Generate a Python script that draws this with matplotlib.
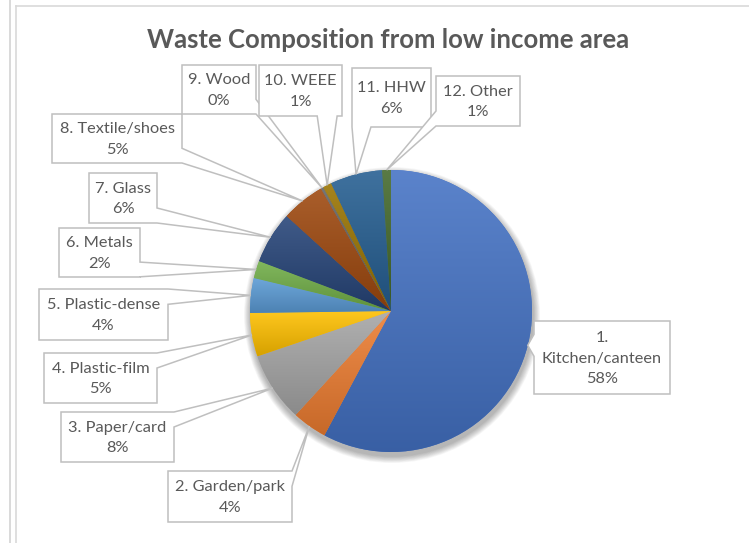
import numpy as np
import matplotlib
matplotlib.use('Agg')
import matplotlib.pyplot as plt
from matplotlib.patches import Circle, Polygon
from matplotlib.colors import to_rgb

plt.rcParams['font.family'] = ['Lato', 'DejaVu Sans']

title = 'Waste Composition from low income area'
cats = ['1.\nKitchen/canteen', '2. Garden/park', '3. Paper/card', '4. Plastic-film',
        '5. Plastic-dense', '6. Metals', '7. Glass', '8. Textile/shoes', '9. Wood',
        '10. WEEE', '11. HHW', '12. Other']
values = [58, 4, 8, 5, 4, 2, 6, 5, 0.3, 1, 6, 1]
colors = ['#4472C4', '#ED7D31', '#A5A5A5', '#FFC000', '#5B9BD5', '#70AD47',
          '#264478', '#9E480E', '#636363', '#997300', '#255E91', '#43682B']

# label boxes (x0, y0, x1, y1) in pixels
boxes = [(534, 321, 670, 394), (168, 471, 292, 522), (61, 412, 174, 462),
         (44, 353, 157, 403), (39, 289, 168, 340), (59, 228, 140, 277),
         (89, 173, 157, 223), (52, 114, 182, 163), (182, 65, 256, 114),
         (259, 65, 342, 116), (352, 68, 431, 127), (436, 76, 520, 126)]

W, H = 749, 543
cx, cy, r = 391, 311, 141
grey = '#595959'
edge = '#BFBFBF'

fig = plt.figure(figsize=(W / 100, H / 100), dpi=100)
ax = fig.add_axes([0, 0, 1, 1])

# soft shadow under the pie
for k in range(10):
    ax.add_patch(Circle((cx + 1, cy + 4), r + 7 - k * 0.7, color='#000000',
                        alpha=0.03, lw=0, zorder=1))

wedges, _ = ax.pie(values, colors=colors, startangle=270, counterclock=True,
                   center=(cx, cy), radius=r, wedgeprops=dict(linewidth=0))

# vertical gradient inside each slice
grad = np.linspace(0, 1, 64)[:, None]
for w, c in zip(wedges, colors):
    w.set_zorder(2)
    base = np.array(to_rgb(c))
    top = base + (1 - base) * 0.12
    bot = base * 0.84
    img = top[None, None, :] * (1 - grad[:, :, None]) + bot[None, None, :] * grad[:, :, None]
    ext = w.get_path().get_extents()
    im = ax.imshow(img, extent=(ext.x0, ext.x1, ext.y1, ext.y0), aspect='auto',
                   zorder=3, interpolation='bilinear')
    im.set_clip_path(w)

total = sum(values)
start = 270.0
for i, v in enumerate(values):
    span = v / total * 360
    mid = np.radians(start + span / 2)
    start += span
    tx, ty = cx + r * np.cos(mid), cy + r * np.sin(mid)
    x0, y0, x1, y1 = boxes[i]

    # pick the box side facing the slice and put the pointer base there
    if tx > x1:
        side = 'right'
    elif tx < x0:
        side = 'left'
    elif ty > y1:
        side = 'bottom'
    else:
        side = 'top'
    if side in ('right', 'left'):
        hw = min(max((y1 - y0) * 0.15, 6), 12)
        m = min(max(ty, y0 + hw), y1 - hw)
        xe = x1 if side == 'right' else x0
        p1, p2 = (xe, m - hw), (xe, m + hw)
    else:
        hw = min(max((x1 - x0) * 0.12, 7), 14)
        m = min(max(tx, x0 + hw), x1 - hw)
        ye = y1 if side == 'bottom' else y0
        p1, p2 = (m - hw, ye), (m + hw, ye)

    tl, tr, br, bl = (x0, y0), (x1, y0), (x1, y1), (x0, y1)
    if side == 'top':
        pts = [tl, p1, (tx, ty), p2, tr, br, bl]
    elif side == 'right':
        pts = [tl, tr, p1, (tx, ty), p2, br, bl]
    elif side == 'bottom':
        pts = [tl, tr, br, p2, (tx, ty), p1, bl]
    else:
        pts = [tl, tr, br, bl, p2, (tx, ty), p1]
    ax.add_patch(Polygon(pts, closed=True, facecolor='white', edgecolor=edge,
                         lw=1.1, zorder=5, joinstyle='miter'))

    pct = round(v / total * 100)
    ax.text((x0 + x1) / 2, (y0 + y1) / 2 + 1, f'{cats[i]}\n{pct}%', ha='center',
            va='center', fontsize=11.8, color=grey, linespacing=1.6, zorder=6)

ax.text(388, 40, title, ha='center', va='center', fontsize=18.5, fontweight='bold',
        color=grey)

# worksheet / chart area border lines
ax.plot([10, 10], [0, H], color='#D9D9D9', lw=1.4)
ax.plot([16, 16], [6, H], color='#D9D9D9', lw=1.2)
ax.plot([16, W], [6, 6], color='#D9D9D9', lw=1.2)

ax.set_xlim(0, W)
ax.set_ylim(H, 0)
ax.set_aspect('auto')
ax.axis('off')

fig.savefig('out.png', dpi=100)
